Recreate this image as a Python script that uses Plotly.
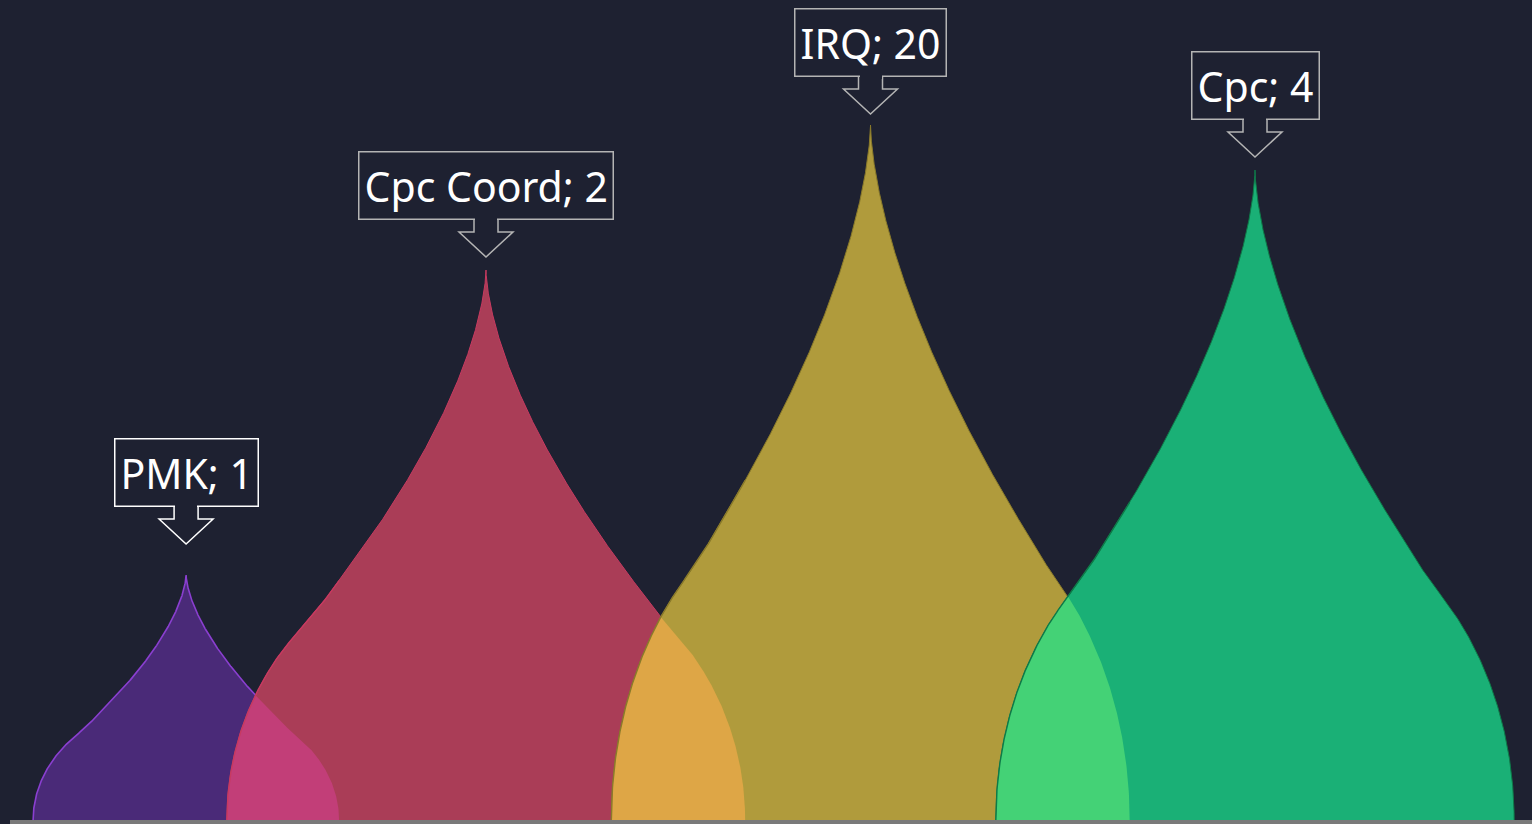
import numpy as np
import plotly.graph_objects as go

# ---- data ----
categories = ["PMK", "Cpc Coord", "IRQ", "Cpc"]
values = [1, 2, 20, 4]
dome_heights = [24.5, 55.0, 69.5, 65.0]   # height of each dome

# ---- style ----
BG = "#1e2131"
fills = ["#4a2a78", "#aa3d57", "#b09b3c", "#1ab076"]
edges = ["#8a3fd0", "#c73a60", "#8a7a2a", "#0e7a48"]
overlap_fills = ["#c23e78", "#dea646", "#44d276"]  # overlap of i and i+1
label_border = ["#ffffff", "#b4b4b4", "#b4b4b4", "#b4b4b4"]
slot_offset = [0.22, 0.0, 0.0, 0.0]
label_gap = [31, 13, 11, 13]      # px between dome tip and arrow tip
HW_MAX = 0.674
HW_K = 0.01624
W, H = 1532, 824


def profile(h):
    """normalized half-width of an onion dome at normalized height h (0..1)"""
    h = np.asarray(h, dtype=float)
    lower = np.sqrt(np.clip(1 - (h / 0.497) ** 2, 0, 1))
    upper = 0.71 * np.clip((1 - h) / 0.65, 0, None) ** 1.6
    t = np.clip((h - 0.27) / 0.16, 0, 1)
    s = t * t * (3 - 2 * t)
    return np.where(h < 0.497, (1 - s) * lower + s * upper, upper)


hs = np.linspace(0, 1, 600)
fs = profile(hs)

centers = [i + slot_offset[i] for i in range(len(categories))]
halfw = [min(HW_MAX, HW_K * dome_heights[i]) for i in range(len(categories))]


def height_at(i, x):
    u = np.abs(x - centers[i]) / halfw[i]
    hn = np.interp(u, fs[::-1], hs[::-1])
    hn = np.where(u >= 1, 0, hn)
    return hn * dome_heights[i]


fig = go.Figure()

# domes
for i, cat in enumerate(categories):
    xl = centers[i] - halfw[i] * fs
    xr = centers[i] + halfw[i] * fs[::-1]
    yl = hs * dome_heights[i]
    yr = hs[::-1] * dome_heights[i]
    fig.add_trace(go.Scatter(
        x=np.concatenate([xl, xr]), y=np.concatenate([yl, yr]),
        fill="toself", fillcolor=fills[i], mode="lines",
        line=dict(color=edges[i], width=1.6 if i == 0 else 1.0),
        hoverinfo="skip", showlegend=False, name=cat))
    # overlap with previous dome
    if i > 0:
        j = i - 1
        a = centers[i] - halfw[i]
        b = centers[j] + halfw[j]
        if b > a:
            xs = np.linspace(a, b, 600)
            ys = np.minimum(height_at(i, xs), height_at(j, xs))
            fig.add_trace(go.Scatter(
                x=xs, y=ys, fill="tozeroy", fillcolor=overlap_fills[j],
                mode="lines", line=dict(width=0, color=overlap_fills[j]),
                hoverinfo="skip", showlegend=False))
            # redraw left edge of the later dome over the overlap
            mask = xs <= centers[i]
            fig.add_trace(go.Scatter(
                x=xs[mask], y=height_at(i, xs[mask]), mode="lines",
                line=dict(color=edges[i], width=1.4),
                hoverinfo="skip", showlegend=False))

shapes = []
annotations = []
for i, cat in enumerate(categories):
    g = label_gap[i]
    # arrow (open at the top, joins the box)
    path = (f"M -12 {g+37} L -12 {g+25} L -27 {g+25} L 0 {g} "
            f"L 27 {g+25} L 12 {g+25} L 12 {g+37}")
    shapes.append(dict(type="path", xref="x", yref="y",
                       xsizemode="pixel", ysizemode="pixel",
                       xanchor=centers[i], yanchor=dome_heights[i],
                       path=path, line=dict(color=label_border[i], width=1.5),
                       fillcolor="rgba(0,0,0,0)", layer="above"))
    annotations.append(dict(
        x=centers[i], y=dome_heights[i], xref="x", yref="y",
        text=f"{cat}; {values[i]}", showarrow=False,
        yanchor="bottom", xanchor="center", yshift=g + 37,
        font=dict(family="Noto Sans", size=41, color="#ffffff"),
        bordercolor=label_border[i], borderwidth=1.5, borderpad=5,
        bgcolor=BG))
    # gap in the box border where the arrow shaft enters
    annotations.append(dict(
        x=centers[i], y=dome_heights[i], xref="x", yref="y",
        text=" ", showarrow=False, yanchor="middle", xanchor="center",
        yshift=g + 37.5, width=22, height=4, borderpad=0, borderwidth=0,
        bgcolor=BG, font=dict(size=1)))

# grey base strip
shapes.append(dict(type="rect", xref="paper", yref="paper",
                   x0=10 / W, x1=1, y0=-4 / 820, y1=0,
                   fillcolor="#7a7a7a", line=dict(width=0), layer="above"))

px_per_unit = 384.5
x0 = 1 - 486 / px_per_unit
fig.update_layout(
    width=W, height=H, autosize=False,
    margin=dict(l=0, r=0, t=0, b=4, pad=0),
    paper_bgcolor=BG, plot_bgcolor=BG,
    xaxis=dict(range=[x0, x0 + W / px_per_unit], visible=False, fixedrange=True),
    yaxis=dict(range=[0, 82], visible=False, fixedrange=True),
    shapes=shapes, annotations=annotations,
    showlegend=False, hovermode=False,
)

fig.write_html(
    "out.html",
    config={"displayModeBar": False},
    post_script="document.body.style.margin='0';document.body.style.background='%s';"
                "document.body.style.overflow='hidden';" % BG,
)
